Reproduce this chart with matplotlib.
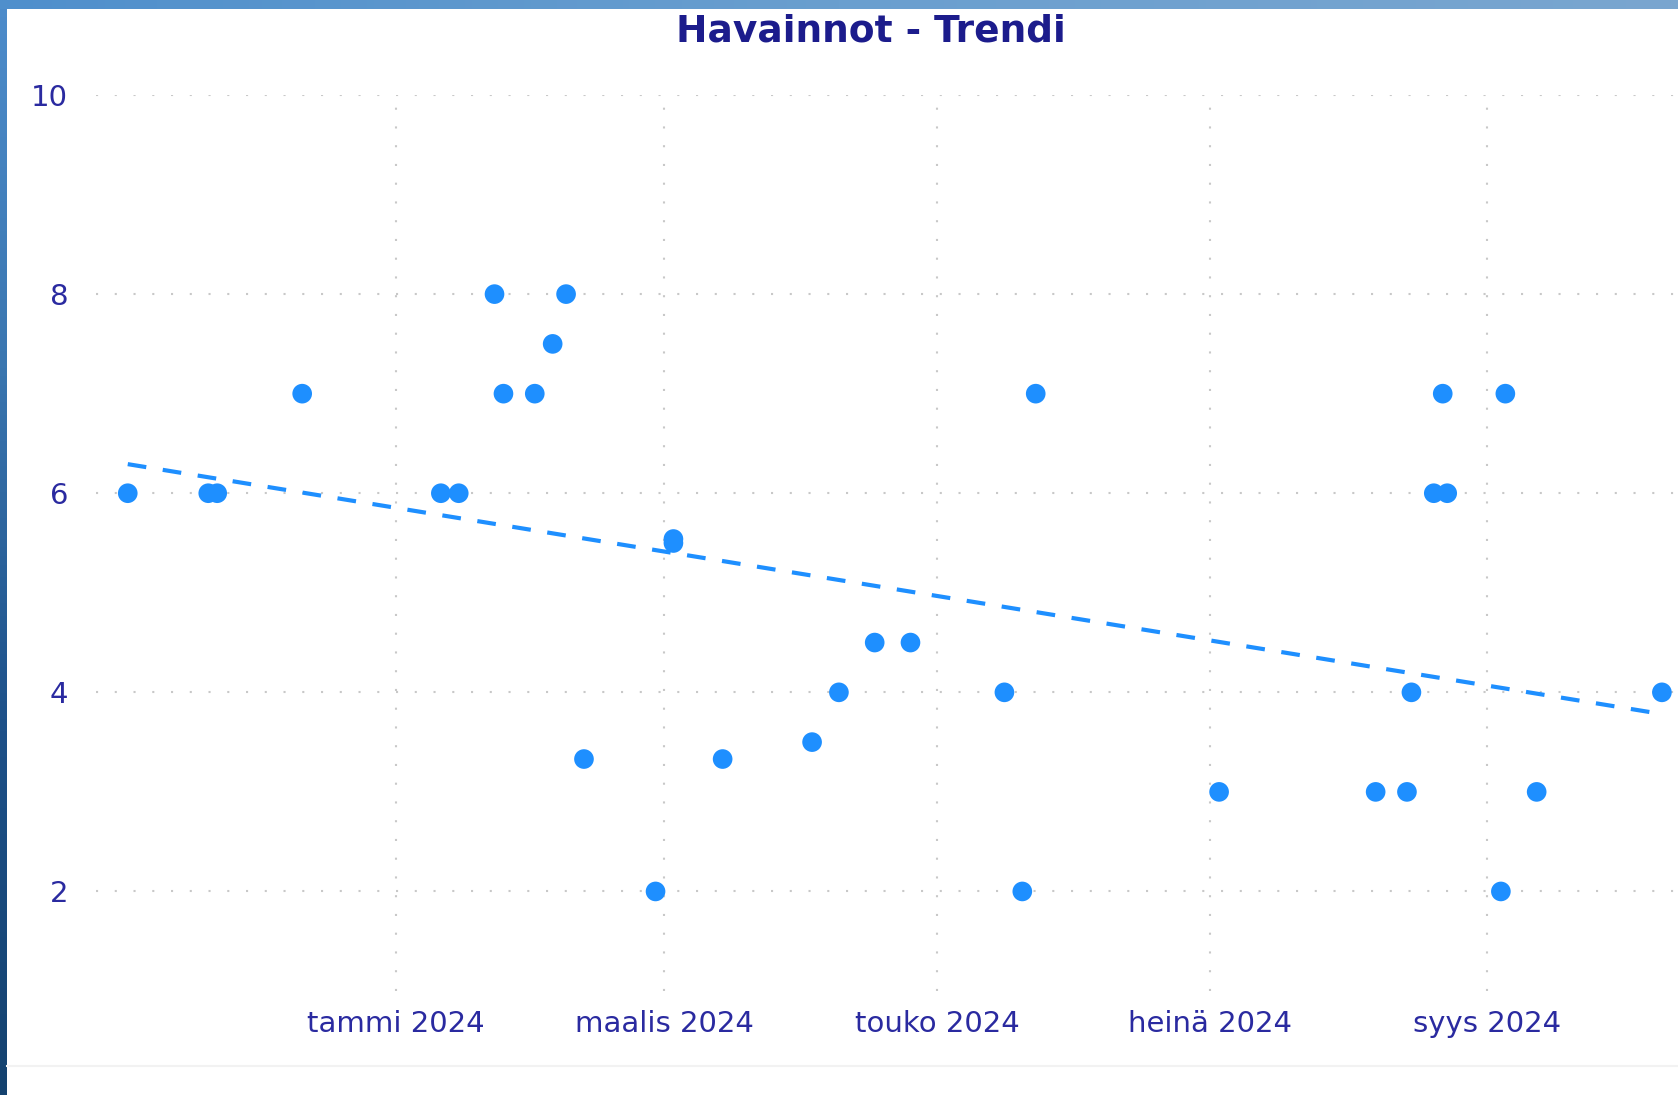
import matplotlib
matplotlib.use("Agg")
import matplotlib.pyplot as plt
import matplotlib.dates as mdates
import numpy as np
from datetime import datetime
from matplotlib.colors import LinearSegmentedColormap

# ---- data ----
dates = ["2023-11-02", "2023-11-20", "2023-11-22", "2023-12-11",
         "2024-01-11", "2024-01-15", "2024-01-23", "2024-01-25", "2024-02-01",
         "2024-02-05", "2024-02-08", "2024-02-12", "2024-02-28", "2024-03-03",
         "2024-03-03", "2024-03-14", "2024-04-03", "2024-04-09", "2024-04-17",
         "2024-04-25", "2024-05-16", "2024-05-20", "2024-05-23", "2024-07-03",
         "2024-08-07", "2024-08-14", "2024-08-15", "2024-08-20", "2024-08-22",
         "2024-08-23", "2024-09-04", "2024-09-05", "2024-09-12", "2024-10-10"]
values = [6, 6, 6, 7,
          6, 6, 8, 7, 7,
          7.5, 8, 3.33, 2, 5.5,
          5.54, 3.33, 3.5, 4, 4.5,
          4.5, 4, 2, 7, 3,
          3, 3, 4, 6, 7,
          6, 2, 7, 3, 4]
tick_dates = ["2024-01-01", "2024-03-01", "2024-05-01", "2024-07-01", "2024-09-01"]
tick_labels = ["tammi 2024", "maalis 2024", "touko 2024", "heinä 2024", "syys 2024"]
y_ticks = [2, 4, 6, 8, 10]
title = "Havainnot - Trendi"

x = mdates.date2num([datetime.strptime(d, "%Y-%m-%d") for d in dates])
y = np.array(values, dtype=float)
xt = mdates.date2num([datetime.strptime(d, "%Y-%m-%d") for d in tick_dates])

W, H = 1678, 1095
fig = plt.figure(figsize=(W / 100, H / 100), dpi=100)
fig.patch.set_facecolor("white")

# screenshot border (blue page background)
grad = np.linspace(0, 1, 256).reshape(-1, 1)
bl = fig.add_axes([0, 0, 7 / W, 1])
cm_l = LinearSegmentedColormap.from_list("l", ["#4d8ccb", "#3a76b0", "#1d5088", "#14426f"])
bl.imshow(grad, aspect="auto", cmap=cm_l, extent=[0, 1, 0, 1], origin="upper")
bl.axis("off")
bt = fig.add_axes([0, 1 - 9 / H, 1, 9 / H])
cm_t = LinearSegmentedColormap.from_list("t", ["#4f8fcc", "#6a9fcf", "#7aa6cf"])
bt.imshow(grad.T, aspect="auto", cmap=cm_t, extent=[0, 1, 0, 1])
bt.axis("off")
fig.add_artist(plt.Line2D([7 / W, 1], [1 - 1066 / H, 1 - 1066 / H], color="#f2f2f2", lw=1.5))

ax = fig.add_axes([96 / W, 1 - 991 / H, 1 - 96 / W, (991 - 95) / H])
ax.set_facecolor("none")

# trend line (least squares fit of the data)
k, b = np.polyfit(x, y, 1)
xx = np.array([x.min(), x.max()])
ax.plot(xx, k * xx + b, color="#1e8fff", lw=3.0, ls=(0, (4.5, 4)), zorder=3)

ax.scatter(x, y, s=200, color="#1e8fff", edgecolors="none", zorder=4)

jan1 = mdates.date2num(datetime(2024, 1, 1))
ax.set_xlim(jan1 - 67.1, jan1 + 286.6)
ax.set_ylim(1, 10)
ax.set_xticks(xt)
ax.set_xticklabels(tick_labels)
ax.set_yticks(y_ticks)
ax.set_yticklabels([str(v) for v in y_ticks])

for s in ax.spines.values():
    s.set_visible(False)
ax.tick_params(length=0)
ax.tick_params(axis="x", pad=14)
ax.tick_params(axis="y", pad=20)
for lab in ax.get_xticklabels() + ax.get_yticklabels():
    lab.set_family("DejaVu Sans")
    lab.set_fontsize(21)
    lab.set_color("#2a2aa0")
ax.grid(True, color="#c8c8c8", lw=1.5, ls=(0, (1, 8)))

fig.text(871 / W, 1 - 32 / H, title, ha="center", va="center", fontsize=27,
         fontweight="bold", color="#1c1c8c", family="DejaVu Sans")

fig.savefig("out.png", dpi=100)
